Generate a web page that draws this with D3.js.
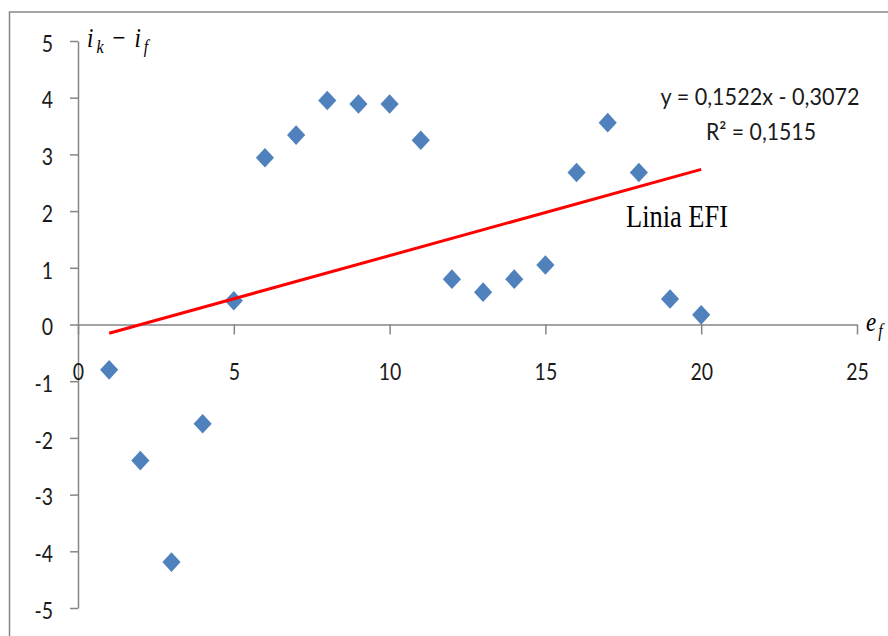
<!DOCTYPE html>
<html>
<head>
<meta charset="utf-8">
<script src="https://cdn.jsdelivr.net/npm/d3@7"></script>
<style>
	body { margin: 0; background: #fff; }
	svg { display: block; }
</style>
</head>
<body>
<svg id="chart"></svg>
<script>
// data
const efValues = [1, 2, 3, 4, 5, 6, 7, 8, 9, 10, 11, 12, 13, 14, 15, 16, 17, 18, 19, 20]
const diffValues = [-0.80, -2.40, -4.19, -1.75, 0.42, 2.94, 3.34, 3.95, 3.89, 3.89, 3.25, 0.80, 0.57, 0.80, 1.05, 2.68, 3.56, 2.68, 0.45, 0.17]
const xTicks = [0, 5, 10, 15, 20, 25]
const yTicks = [5, 4, 3, 2, 1, 0, -1, -2, -3, -4, -5]
const trendSlope = 0.1522
const trendIntercept = -0.3072
const trendRange = [1, 20]
const equationLabel = "y = 0,1522x - 0,3072"
const r2Label = "R² = 0,1515"
const lineLabel = "Linia EFI"

const width = 888, height = 636
const stretch = 1.2 // the source picture is stretched vertically
const axisColor = "#868686"
const pointColor = "#4f81bd"

const svg = d3.select("#chart")
	.attr("width", width)
	.attr("height", height)

// chart area frame (runs off the right and bottom of the picture)
svg.append("rect")
	.attr("x", 9.5).attr("y", 12)
	.attr("width", 1000).attr("height", 1000)
	.attr("fill", "none")
	.attr("stroke", axisColor)
	.attr("stroke-width", 1.5)

const x = d3.scaleLinear().domain([0, 25]).range([78, 857])
const y = d3.scaleLinear().domain([-5, 5]).range([608, 41])

// y axis at x = 0
const yAxis = svg.append("g")
	.attr("transform", "translate(" + x(0) + ",0)")
	.call(d3.axisLeft(y).tickValues(yTicks).tickSize(8).tickSizeOuter(0).tickFormat(d => String(d)))
yAxis.selectAll("text")
	.attr("dy", null)
	.attr("x", -25)
	.attr("y", 8.5)
	.attr("transform", "scale(1," + stretch + ")")

// x axis crosses at y = 0
const xAxis = svg.append("g")
	.attr("transform", "translate(0," + y(0) + ")")
	.call(d3.axisBottom(x).tickValues(xTicks).tickSize(10).tickSizeOuter(0).tickFormat(d => String(d)))
xAxis.selectAll("text")
	.attr("dy", null)
	.attr("y", 46)
	.attr("transform", "scale(1," + stretch + ")")

svg.selectAll(".domain, .tick line")
	.attr("stroke", axisColor)
	.attr("stroke-width", 1.5)
svg.selectAll(".tick text")
	.attr("font-family", "Lato, 'Open Sans', sans-serif")
	.attr("font-size", 19.5)
	.attr("fill", "#1a1a1a")

// scatter points (diamonds)
const diamond = d3.symbol(d3.symbolSquare).size(165)
svg.append("g")
	.selectAll("path")
	.data(efValues.map((v, i) => ({ x: v, y: diffValues[i] })))
	.join("path")
	.attr("d", diamond)
	.attr("fill", pointColor)
	.attr("transform", d => "translate(" + x(d.x) + "," + y(d.y) + ") scale(1,1.08) rotate(45)")

// linear trendline
const line = d3.line()
	.x(d => x(d))
	.y(d => y(trendSlope * d + trendIntercept))
svg.append("path")
	.datum(trendRange)
	.attr("fill", "none")
	.attr("stroke", "#ff0000")
	.attr("stroke-width", 3)
	.attr("d", line)

function label(px, py, txt, opts) {
	const t = svg.append("text")
		.attr("transform", "translate(" + px + "," + py + ") scale(1," + stretch + ")")
		.attr("font-family", opts.family)
		.attr("font-size", opts.size)
		.attr("text-anchor", opts.anchor || "start")
		.attr("fill", opts.fill || "#1a1a1a")
		.text(txt)
	if (opts.length)
		t.attr("textLength", opts.length).attr("lengthAdjust", "spacingAndGlyphs")
	return t
}

label(760, 105, equationLabel, { family: "Lato, sans-serif", size: 20, anchor: "middle", length: 199 })
label(761, 140, r2Label, { family: "Lato, sans-serif", size: 20, anchor: "middle", length: 110 })
label(626, 227, lineLabel, { family: "'Liberation Serif', 'DejaVu Serif', serif", size: 26, length: 102, fill: "#000" })

// axis titles in italic serif with subscripts
function mathTitle(px, py, parts) {
	const t = svg.append("text")
		.attr("transform", "translate(" + px + "," + py + ") scale(1," + stretch + ")")
		.attr("font-family", "'Liberation Serif', 'DejaVu Serif', serif")
		.attr("font-size", 23)
		.attr("fill", "#000")
	parts.forEach(p => {
		t.append("tspan")
			.attr("font-family", "'Liberation Serif', serif")
			.attr("font-style", p.italic ? "italic" : "normal")
			.attr("font-size", p.sub ? 16 : 23)
			.attr("dy", p.dy || 0)
			.attr("dx", p.dx || 0)
			.text(p.text)
	})
}

mathTitle(87, 47, [
	{ text: "i", italic: true },
	{ text: "k", italic: true, sub: true, dy: 5, dx: 3 },
	{ text: "−", dy: -5, dx: 9 },
	{ text: "i", italic: true, dx: 9 },
	{ text: "f", italic: true, sub: true, dy: 5, dx: 3 }
])
mathTitle(866, 331, [
	{ text: "e", italic: true },
	{ text: "f", italic: true, sub: true, dy: 5, dx: 2 }
])
</script>
</body>
</html>
